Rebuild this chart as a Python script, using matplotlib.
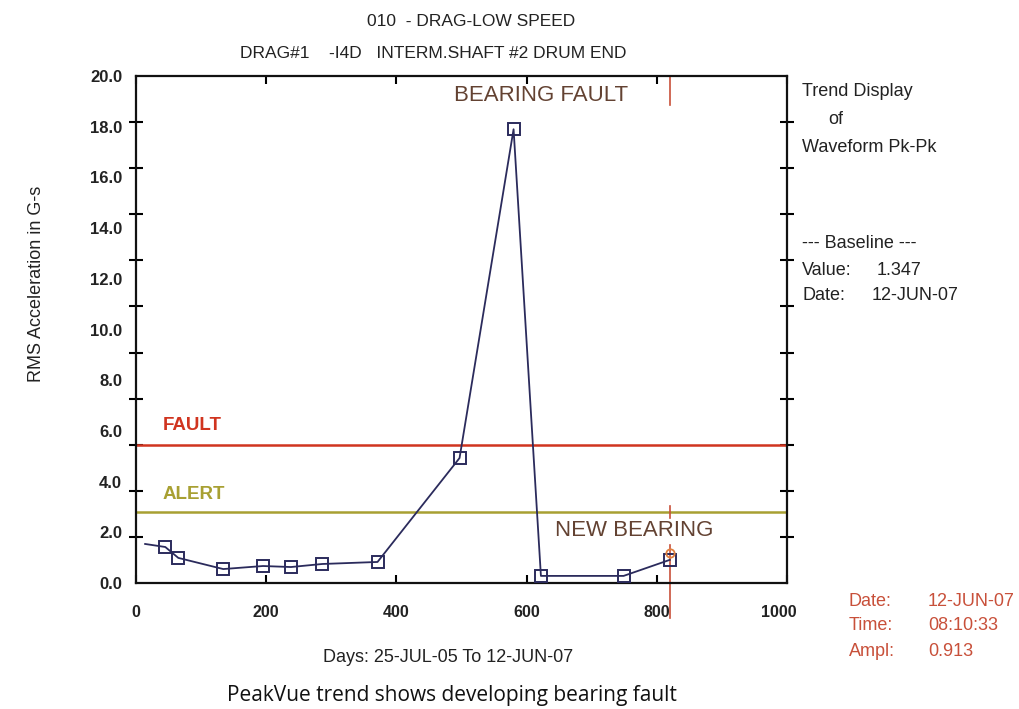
import numpy as np
import matplotlib
matplotlib.use("Agg")
import matplotlib.pyplot as plt
import matplotlib.transforms as mtransforms

plt.rcParams["font.family"] = ["Liberation Sans", "DejaVu Sans"]

# trend data (days since 25-JUL-05, Pk-Pk in G-s)
days = [14, 45, 65, 134, 195, 238, 286, 371, 497, 580, 622, 749, 820]
ampl = [1.54, 1.42, 0.99, 0.55, 0.67, 0.63, 0.75, 0.83, 4.93, 17.9, 0.28, 0.28, 0.913]
FAULT = 5.45
ALERT = 2.8
CURSOR_DAY = 820

y_labels = [0, 2, 4, 6, 8, 10, 12, 14, 16, 18, 20]
x_labels = [0, 200, 400, 600, 800, 1000]

NAVY = "#2b2b5c"
RED = "#d0341f"
OLIVE = "#a8a032"
BROWN = "#634232"
CURSOR = "#c8503a"
INK = "#222222"

W, H = 1019, 709


def fx(px):
    return px / W


def fy(py):
    return 1 - py / H


fig = plt.figure(figsize=(W / 100, H / 100), dpi=100)
ax = fig.add_axes([fx(136), fy(583), 651 / W, 507 / H])

ax.plot(days, ampl, color=NAVY, lw=1.3, zorder=3)
ax.plot(days[1:], ampl[1:], ls="none", marker="s", ms=8, mfc="none",
        mec=NAVY, mew=1.4, zorder=4)

ax.axhline(FAULT, color=RED, lw=1.8, zorder=2)
ax.axhline(ALERT, color=OLIVE, lw=1.8, zorder=2)
ax.text(41, 6.2, "FAULT", color=RED, fontsize=13.5, weight="bold", va="center")
ax.text(41, 3.5, "ALERT", color=OLIVE, fontsize=13.5, weight="bold", va="center")

# cursor
ax.plot([CURSOR_DAY, CURSOR_DAY], [20, 18.85], color=CURSOR, lw=1.2, clip_on=False)
ax.plot([CURSOR_DAY, CURSOR_DAY], [ALERT - 0.25, ALERT + 0.25], color=CURSOR, lw=1.2)
ax.plot([CURSOR_DAY, CURSOR_DAY], [1.5, -1.4], color=CURSOR, lw=1.2,
        clip_on=False, zorder=2)
ax.plot([CURSOR_DAY], [1.18], marker="o", ms=6, mfc="none", mec="#e08040",
        mew=1.3, zorder=5)

ax.text(622, 19.25, "BEARING FAULT", color=BROWN, fontsize=16, ha="center", va="center")
ax.text(765, 2.09, "NEW BEARING", color=BROWN, fontsize=16, ha="center", va="center")

ax.set_xlim(0, 1000)
ax.set_ylim(0, 20)
for s in ax.spines.values():
    s.set_linewidth(1.6)
    s.set_color("#111111")

ax.set_yticks(y_labels)
ax.set_yticklabels([f"{v:.1f}" for v in y_labels], fontsize=12, weight="bold", color=INK)
ax.tick_params(axis="y", length=0, pad=10)
ax.set_yticks(np.linspace(0, 20, 12), minor=True)
ax.tick_params(axis="y", which="minor", direction="inout", length=10, width=1.5,
               right=True, left=True)

ax.set_xticks(x_labels)
ax.set_xticklabels([str(v) for v in x_labels], fontsize=11.5, weight="bold", color=INK)
ax.tick_params(axis="x", direction="in", length=6, width=1.5, top=True, pad=16)
# the old software drew "1000" a little left of the corner
last = ax.get_xticklabels()[-1]
last.set_transform(last.get_transform() +
                   mtransforms.ScaledTranslation(-8 / 100, 0, fig.dpi_scale_trans))

fig.text(fx(448), fy(658), "Days: 25-JUL-05 To 12-JUN-07", ha="center", va="center",
         fontsize=13, color=INK)
fig.text(fx(37), fy(284), "RMS Acceleration in G-s", ha="center", va="center",
         rotation=90, fontsize=13, color=INK)

fig.text(fx(471), fy(22), "010  - DRAG-LOW SPEED", ha="center", va="center",
         fontsize=12.5, color=INK)
fig.text(fx(433), fy(53), "DRAG#1    -I4D   INTERM.SHAFT #2 DRUM END",
         ha="center", va="center", fontsize=12.5, color=INK)

side = [("Trend Display", 802, 92), ("of", 828, 120), ("Waveform Pk-Pk", 802, 148),
        ("--- Baseline ---", 802, 243), ("Value:", 802, 270), ("1.347", 877, 270),
        ("Date:", 802, 296), ("12-JUN-07", 872, 296)]
for s, x, y in side:
    fig.text(fx(x), fy(y), s, va="center", fontsize=13, color=INK)

info = [("Date:", "12-JUN-07", 601), ("Time:", "08:10:33", 626), ("Ampl:", "0.913", 651)]
for k, v, y in info:
    fig.text(fx(849), fy(y), k, va="center", fontsize=13, color=CURSOR)
    fig.text(fx(928), fy(y), v, va="center", fontsize=13, color=CURSOR)

fig.text(fx(452), fy(696), "PeakVue trend shows developing bearing fault",
         ha="center", va="center", fontsize=15, family=["Open Sans", "DejaVu Sans"],
         color="#111111")

fig.savefig("out.png", dpi=100, facecolor="white")
